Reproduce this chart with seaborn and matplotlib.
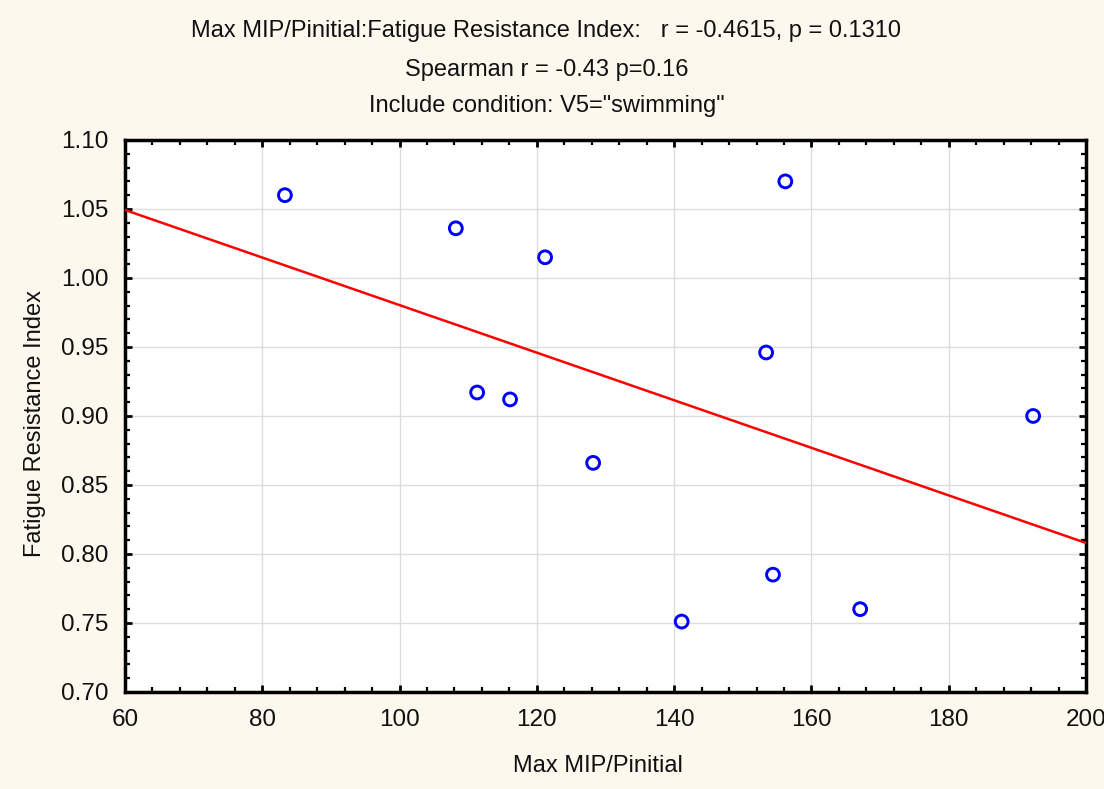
import matplotlib
matplotlib.use("Agg")
import matplotlib.pyplot as plt
import seaborn as sns
import pandas as pd
import numpy as np
from matplotlib.ticker import MultipleLocator

# Data
max_mip = [83.3, 108.2, 121.2, 156.2, 153.4, 111.3, 116.1, 128.2, 192.3, 141.1, 154.4, 167.1]
fatigue = [1.060, 1.036, 1.015, 1.070, 0.946, 0.917, 0.912, 0.866, 0.900, 0.751, 0.785, 0.760]

title_lines = [
    'Max MIP/Pinitial:Fatigue Resistance Index:   r = -0.4615, p = 0.1310',
    'Spearman r = -0.43 p=0.16',
    'Include condition: V5="swimming"',
]
x_label = "Max MIP/Pinitial"
y_label = "Fatigue Resistance Index"

sns.set_theme(style="white")
plt.rcParams['font.family'] = ['Liberation Sans', 'DejaVu Sans']

bg = '#fdf8ee'
fig = plt.figure(figsize=(11.04, 7.89), dpi=100, facecolor=bg)
ax = fig.add_axes([0.1132, 0.1230, 0.8705, 0.6996])
ax.set_facecolor('white')

df = pd.DataFrame({"x": max_mip, "y": fatigue})
ax.set_xlim(60, 200)
ax.set_ylim(0.70, 1.10)
sns.regplot(data=df, x="x", y="y", ax=ax, ci=None, truncate=False,
            scatter_kws=dict(marker='o', s=85, facecolors='none', edgecolors='#0000ff',
                             linewidths=2.1, alpha=1, zorder=4),
            line_kws=dict(color='#ff0000', lw=1.8, zorder=3))
ax.set_xlim(60, 200)
ax.set_ylim(0.70, 1.10)

ax.xaxis.set_major_locator(MultipleLocator(20))
ax.xaxis.set_minor_locator(MultipleLocator(4))
ax.yaxis.set_major_locator(MultipleLocator(0.05))
ax.yaxis.set_minor_locator(MultipleLocator(0.01))
ax.yaxis.set_major_formatter(matplotlib.ticker.FormatStrFormatter('%.2f'))

ax.grid(True, which='major', color='#dcdcdc', lw=1)
ax.set_axisbelow(True)
for s in ax.spines.values():
    s.set_visible(True)
    s.set_color('black')
    s.set_linewidth(2.5)

ax.tick_params(which='both', direction='in', top=True, right=True, bottom=True, left=True,
               color='black')
ax.tick_params(which='major', length=5, width=2, labelsize=17.5, labelcolor='#111111')
ax.tick_params(which='minor', length=3.5, width=1.6)
ax.tick_params(axis='y', which='major', pad=12)
ax.tick_params(axis='x', which='major', pad=12)

ax.set_xlabel(x_label, fontsize=17, color='#111111', va='center')
ax.xaxis.set_label_coords(0.4917, -0.134)
ax.set_ylabel(y_label, fontsize=17, color='#111111', va='center', ha='center')
ax.yaxis.set_label_coords(-0.094, 0.487)

ys = [0.9607, 0.9113, 0.8657]
for t, yy in zip(title_lines, ys):
    fig.text(0.495, yy, t, ha='center', va='center', fontsize=17, color='#111111')

fig.savefig("out.png", dpi=100, facecolor=bg)
